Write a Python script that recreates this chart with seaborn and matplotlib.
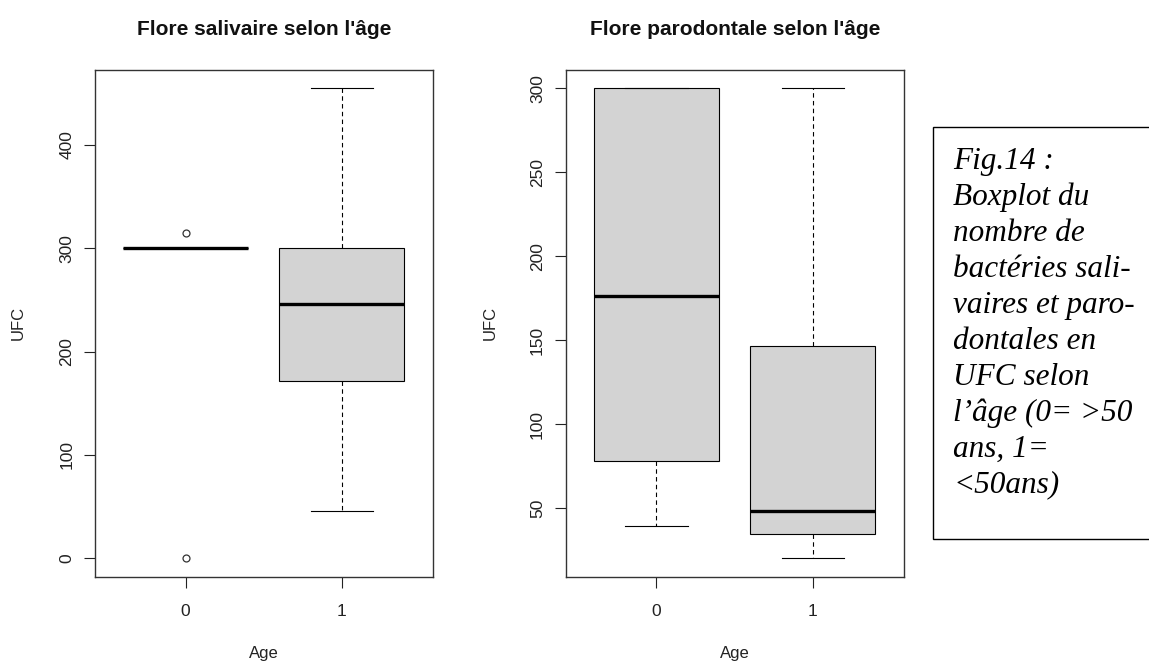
import matplotlib
matplotlib.use("Agg")
import matplotlib.pyplot as plt
import seaborn as sns
import pandas as pd
from matplotlib.patches import Rectangle

# ---- data ----
age_groups = ["0", "1"]
saliv_age0 = [0, 300, 300, 300, 300, 315]
saliv_age1 = [45.4, 171, 245.7, 300, 454.6]
parod_age0 = [39.5, 78.2, 176.3, 300, 300]
parod_age1 = [20.2, 34.5, 48.4, 146.7, 300]

titles = ["Flore salivaire selon l'âge", "Flore parodontale selon l'âge"]
yticks_saliv = [0, 100, 200, 300, 400]
yticks_parod = [50, 100, 150, 200, 250, 300]
caption = ("Fig.14 :\nBoxplot du\nnombre de\nbactéries sali-\nvaires et paro-\n"
           "dontales en\nUFC selon\nl’âge (0= >50\nans, 1=\n<50ans)")

def frame(a0, a1):
    return pd.DataFrame({
        "Age": [age_groups[0]] * len(a0) + [age_groups[1]] * len(a1),
        "UFC": list(a0) + list(a1),
    })

df_saliv = frame(saliv_age0, saliv_age1)
df_parod = frame(parod_age0, parod_age1)

plt.rcParams["font.family"] = ["Liberation Sans", "DejaVu Sans"]

W, H = 1149, 663
fig = plt.figure(figsize=(W / 100, H / 100), dpi=100)
fig.patch.set_facecolor("white")

def px_axes(x0, y0, x1, y1):
    return fig.add_axes([x0 / W, 1 - y1 / H, (x1 - x0) / W, (y1 - y0) / H])

ax1 = px_axes(95, 70, 433.3, 576.7)
ax2 = px_axes(565.7, 70, 904.3, 576.7)

box_kws = dict(
    x="Age", y="UFC", order=age_groups, color="#d3d3d3", saturation=1,
    linecolor="black", linewidth=0.8, width=0.8, whis=1.5,
    medianprops=dict(color="black", linewidth=2.4),
    whiskerprops=dict(color="black", linewidth=0.8, linestyle=(0, (4, 3))),
    capprops=dict(color="black", linewidth=0.8),
    flierprops=dict(marker="o", markersize=5, markerfacecolor="none",
                    markeredgecolor="#333333", markeredgewidth=0.9),
)

sns.boxplot(data=df_saliv, ax=ax1, **box_kws)
sns.boxplot(data=df_parod, ax=ax2, **box_kws)

for ax, title, yt, ylim, lblx in [
    (ax1, titles[0], yticks_saliv, (-18, 472.5), -0.228),
    (ax2, titles[1], yticks_parod, (9, 311), -0.224),
]:
    ax.set_xlim(-0.58, 1.585)
    ax.set_ylim(*ylim)
    ax.set_yticks(yt)
    ax.set_yticklabels([str(v) for v in yt], rotation=90, va="center")
    ax.set_xticks([0, 1])
    ax.set_xticklabels(age_groups)
    ax.tick_params(axis="both", length=8, width=0.8, color="#222222",
                   labelsize=12.5, labelcolor="#222222")
    ax.tick_params(axis="y", pad=7)
    ax.tick_params(axis="x", pad=12)
    for s in ax.spines.values():
        s.set_visible(True)
        s.set_linewidth(1.0)
        s.set_color("#333333")
    ax.set_facecolor("white")
    ax.set_title(title, fontsize=15, fontweight="bold", pad=25, color="#111111")
    ax.set_ylabel("UFC", fontsize=12, color="#222222")
    ax.set_xlabel("Age", fontsize=12, color="#222222")
    ax.yaxis.label.set_va("center")
    ax.xaxis.label.set_va("center")
    ax.yaxis.set_label_coords(lblx, 0.5)
    ax.xaxis.set_label_coords(0.5, -0.151)
    ax.grid(False)

# caption box
fig.patches.append(Rectangle((933.3 / W, 1 - 539.3 / H), (1200 - 933.3) / W,
                             (539.3 - 126.7) / H, transform=fig.transFigure,
                             facecolor="white", edgecolor="black", linewidth=1.0,
                             clip_on=True))
fig.text(953 / W, 1 - 147 / H, caption, family=["Liberation Serif", "DejaVu Serif"],
         style="italic", fontsize=22.5, va="top", ha="left", linespacing=1.31,
         color="black")

fig.savefig("out.png", dpi=100, facecolor="white")
